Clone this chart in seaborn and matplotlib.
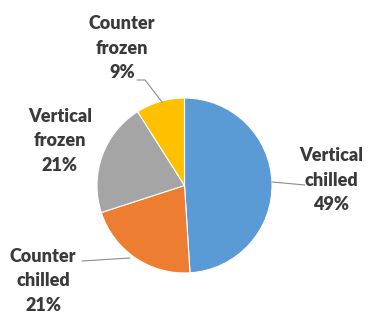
import matplotlib
matplotlib.use("Agg")
import matplotlib.pyplot as plt
import seaborn as sns

sns.set_theme(style="white")
plt.rcParams["font.family"] = ["Lato", "DejaVu Sans"]

# slices, clockwise from 12 o'clock
categories = ["Vertical\nchilled", "Counter\nchilled", "Vertical\nfrozen", "Counter\nfrozen"]
shares = [49, 21, 21, 9]
colors = ["#5B9BD5", "#ED7D31", "#A5A5A5", "#FFC000"]

W, H = 371, 315
CX, CY, R = 184.5, 185.5, 87.5


def px(x, y):
    # image pixel -> data coords (pie radius = 1)
    return (x - CX) / R, (CY - y) / R


fig = plt.figure(figsize=(W / 100, H / 100), dpi=100)
ax = fig.add_axes([0, 0, 1, 1])
ax.pie(shares, colors=colors, startangle=90, counterclock=False,
       wedgeprops=dict(edgecolor="white", linewidth=0.8))
ax.set_xlim(-CX / R, (W - CX) / R)
ax.set_ylim(-(H - CY) / R, CY / R)
ax.set_aspect("auto")
ax.axis("off")

# label block centres and leader lines (pixels)
label_pos = [(331, 180), (43, 281), (60, 141), (122, 48)]
leaders = [
    [(272, 182), (305, 185)],
    [(130, 258), (82, 261)],
    None,
    [(162, 102), (145, 80), (137, 80)],
]

for cat, val, pos, line in zip(categories, shares, label_pos, leaders):
    x, y = px(*pos)
    ax.text(x, y, f"{cat}\n{val}%", ha="center", va="center",
            fontsize=13, fontweight="heavy", color="#3a3a3a", linespacing=1.55)
    if line:
        xs, ys = zip(*[px(a, b) for a, b in line])
        ax.plot(xs, ys, color="#8c8c8c", lw=0.8)

fig.savefig("out.png", dpi=100)
